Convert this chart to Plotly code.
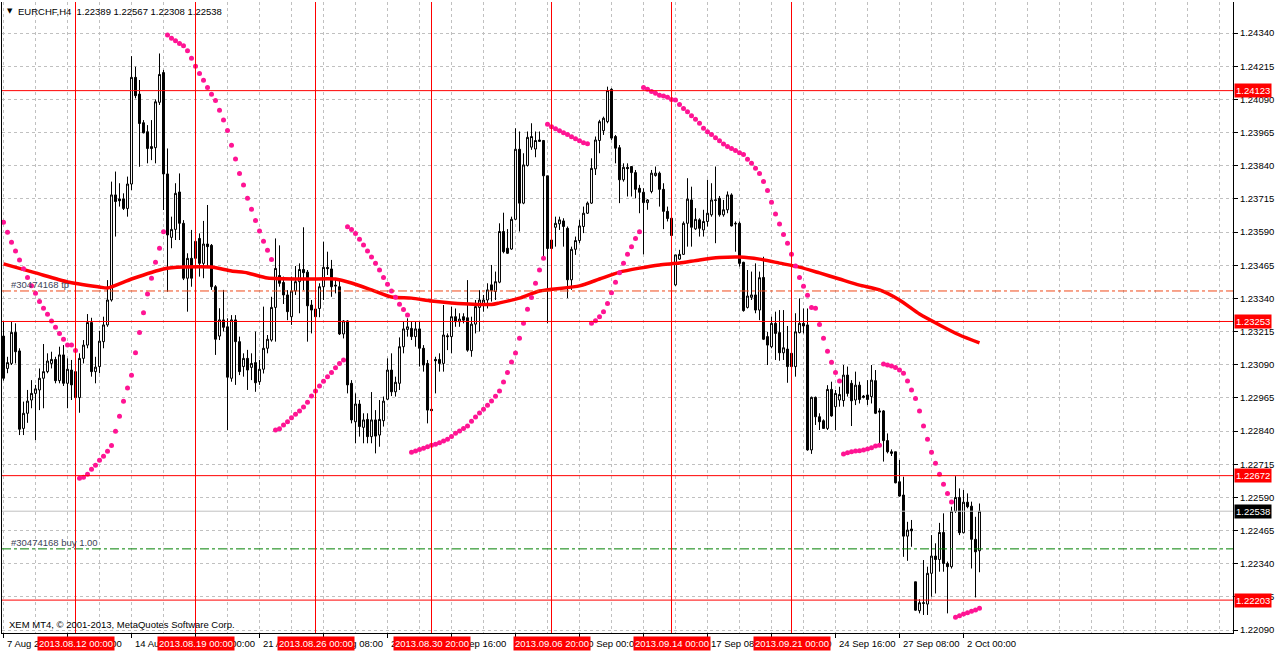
import plotly.graph_objects as go

# EURCHF H4, bar 0 = 7 Aug 2013 00:00 ... bar 244 = 2 Oct 2013 16:00
opens = [
    1.23198, 1.23076, 1.23095, 1.23212, 1.23142, 1.22850, 1.22907, 1.22957, 1.22982, 1.22995,
    1.23039, 1.23064, 1.23095, 1.23110, 1.23030, 1.23127, 1.23020, 1.23070, 1.23064, 1.22966,
    1.23114, 1.23164, 1.23249, 1.23064, 1.23083, 1.23177, 1.23240, 1.23334, 1.23730, 1.23715,
    1.23715, 1.23679, 1.23771, 1.24173, 1.24110, 1.24002, 1.23968, 1.23912, 1.23908, 1.24079,
    1.24191, 1.23809, 1.23570, 1.23600, 1.23741, 1.23623, 1.23416, 1.23491, 1.23491, 1.23566,
    1.23472, 1.23545, 1.23540, 1.23384, 1.23198, 1.23259, 1.23233, 1.23039, 1.23259, 1.23177,
    1.23083, 1.23114, 1.23080, 1.23098, 1.23026, 1.23073, 1.23152, 1.23183, 1.23306, 1.23426,
    1.23400, 1.23353, 1.23271, 1.23368, 1.23403, 1.23449, 1.23439, 1.23315, 1.23300, 1.23302,
    1.23384, 1.23457, 1.23451, 1.23390, 1.23384, 1.23206, 1.23255, 1.23020, 1.22875, 1.22942,
    1.22854, 1.22884, 1.22819, 1.22882, 1.22825, 1.22879, 1.22960, 1.23070, 1.22988, 1.23020,
    1.23158, 1.23223, 1.23227, 1.23196, 1.23225, 1.23152, 1.23095, 1.22922, 1.23110, 1.23110,
    1.23095, 1.23199, 1.23196, 1.23271, 1.23252, 1.23271, 1.23267, 1.23143, 1.23243, 1.23306,
    1.23319, 1.23334, 1.23391, 1.23366, 1.23401, 1.23592, 1.23529, 1.23526, 1.23638, 1.23902,
    1.23699, 1.23841, 1.23910, 1.23903, 1.23937, 1.23935, 1.23802, 1.23560, 1.23608, 1.23621,
    1.23632, 1.23604, 1.23410, 1.23525, 1.23558, 1.23611, 1.23661, 1.23699, 1.23828, 1.23935,
    1.23972, 1.24006, 1.24128, 1.23950, 1.23908, 1.23787, 1.23834, 1.23837, 1.23814, 1.23755,
    1.23740, 1.23701, 1.23743, 1.23803, 1.23812, 1.23751, 1.23668, 1.23642, 1.23391, 1.23488,
    1.23506, 1.23623, 1.23711, 1.23602, 1.23636, 1.23598, 1.23630, 1.23655, 1.23709, 1.23717,
    1.23655, 1.23674, 1.23730, 1.23623, 1.23623, 1.23476, 1.23306, 1.23344, 1.23353, 1.23296,
    1.23419, 1.23196, 1.23158, 1.23246, 1.23211, 1.23135, 1.23149, 1.23133, 1.23083, 1.23211,
    1.23246, 1.23240, 1.22769, 1.22967, 1.22894, 1.22879, 1.22850, 1.22997, 1.22932, 1.22957,
    1.22955, 1.23051, 1.23020, 1.22957, 1.23013, 1.22972, 1.22976, 1.22970, 1.23030, 1.22916,
    1.22916, 1.22804, 1.22762, 1.22762, 1.22649, 1.22599, 1.22444, 1.22471, 1.22272, 1.22163,
    1.22193, 1.22188, 1.22304, 1.22369, 1.22356, 1.22458, 1.22341, 1.22329, 1.22538, 1.22590,
    1.22457, 1.22572, 1.22557, 1.22432, 1.22389,
]
highs = [
    1.23252, 1.23120, 1.23252, 1.23246, 1.23152, 1.22951, 1.22995, 1.23032, 1.23014, 1.23076,
    1.23168, 1.23133, 1.23139, 1.23120, 1.23158, 1.23164, 1.23114, 1.23108, 1.23076, 1.23133,
    1.23183, 1.23281, 1.23267, 1.23120, 1.23218, 1.23271, 1.23409, 1.23780, 1.23818, 1.23774,
    1.23736, 1.23799, 1.24253, 1.24213, 1.24163, 1.24012, 1.23993, 1.24012, 1.24090, 1.24263,
    1.24201, 1.23905, 1.23648, 1.23774, 1.23811, 1.23635, 1.23510, 1.23598, 1.23585, 1.23585,
    1.23632, 1.23692, 1.23545, 1.23390, 1.23303, 1.23372, 1.23265, 1.23277, 1.23277, 1.23196,
    1.23133, 1.23146, 1.23133, 1.23215, 1.23108, 1.23309, 1.23202, 1.23346, 1.23566, 1.23540,
    1.23422, 1.23371, 1.23422, 1.23462, 1.23472, 1.23608, 1.23447, 1.23334, 1.23334, 1.23397,
    1.23554, 1.23516, 1.23485, 1.23409, 1.23409, 1.23258, 1.23258, 1.23032, 1.22982, 1.22957,
    1.22907, 1.22907, 1.22987, 1.22919, 1.22957, 1.22970, 1.23114, 1.23133, 1.23045, 1.23193,
    1.23252, 1.23265, 1.23252, 1.23252, 1.23252, 1.23164, 1.23108, 1.22925, 1.23120, 1.23133,
    1.23315, 1.23208, 1.23309, 1.23302, 1.23284, 1.23284, 1.23409, 1.23271, 1.23334, 1.23371,
    1.23353, 1.23397, 1.23466, 1.23441, 1.23623, 1.23663, 1.23601, 1.23648, 1.23981, 1.23969,
    1.23887, 1.23969, 1.24000, 1.23969, 1.23969, 1.23937, 1.23802, 1.23567, 1.23648, 1.23648,
    1.23642, 1.23611, 1.23535, 1.23573, 1.23636, 1.23686, 1.23705, 1.23868, 1.23950, 1.24013,
    1.24025, 1.24138, 1.24132, 1.23956, 1.23918, 1.23849, 1.23849, 1.23837, 1.23824, 1.23768,
    1.23755, 1.23714, 1.23824, 1.23837, 1.23818, 1.23774, 1.23686, 1.23648, 1.23504, 1.23523,
    1.23630, 1.23793, 1.23761, 1.23680, 1.23642, 1.23674, 1.23787, 1.23774, 1.23837, 1.23726,
    1.23711, 1.23743, 1.23736, 1.23630, 1.23630, 1.23478, 1.23447, 1.23441, 1.23472, 1.23441,
    1.23497, 1.23214, 1.23271, 1.23290, 1.23296, 1.23296, 1.23236, 1.23145, 1.23284, 1.23340,
    1.23302, 1.23302, 1.22970, 1.22970, 1.22907, 1.22884, 1.23013, 1.23026, 1.22995, 1.23007,
    1.23089, 1.23083, 1.23032, 1.23064, 1.23026, 1.22976, 1.23032, 1.23089, 1.23070, 1.22926,
    1.22919, 1.22831, 1.22771, 1.22762, 1.22731, 1.22668, 1.22498, 1.22505, 1.22272, 1.22206,
    1.22354, 1.22329, 1.22448, 1.22417, 1.22494, 1.22530, 1.22348, 1.22555, 1.22670, 1.22624,
    1.22618, 1.22605, 1.22574, 1.22517, 1.22567,
]
lows = [
    1.23030, 1.23058, 1.23089, 1.23095, 1.22825, 1.22825, 1.22871, 1.22926, 1.22806, 1.22919,
    1.22926, 1.23058, 1.23076, 1.23020, 1.23020, 1.23010, 1.22926, 1.22957, 1.22957, 1.22909,
    1.23095, 1.23152, 1.23045, 1.23020, 1.23058, 1.23152, 1.23233, 1.23328, 1.23573, 1.23686,
    1.23673, 1.23648, 1.23748, 1.24094, 1.23836, 1.23962, 1.23849, 1.23861, 1.23849, 1.24069,
    1.23673, 1.23365, 1.23529, 1.23560, 1.23560, 1.23409, 1.23290, 1.23384, 1.23460, 1.23422,
    1.23416, 1.23460, 1.23372, 1.23127, 1.23183, 1.23215, 1.22844, 1.23026, 1.23014, 1.23051,
    1.23045, 1.22995, 1.23032, 1.22988, 1.23014, 1.23057, 1.23133, 1.23177, 1.23177, 1.23384,
    1.23319, 1.23258, 1.23240, 1.23353, 1.23284, 1.23371, 1.23177, 1.23208, 1.23252, 1.23269,
    1.23334, 1.23428, 1.23346, 1.23359, 1.23202, 1.23189, 1.22982, 1.22869, 1.22794, 1.22819,
    1.22794, 1.22794, 1.22794, 1.22756, 1.22781, 1.22857, 1.22957, 1.22972, 1.22970, 1.22995,
    1.23133, 1.23196, 1.23183, 1.23158, 1.23083, 1.23064, 1.22869, 1.22912, 1.22982, 1.23064,
    1.23064, 1.23145, 1.23133, 1.23233, 1.23233, 1.23246, 1.23139, 1.23120, 1.23208, 1.23215,
    1.23290, 1.23302, 1.23328, 1.23334, 1.23397, 1.23510, 1.23508, 1.23523, 1.23636, 1.23592,
    1.23695, 1.23837, 1.23900, 1.23872, 1.23930, 1.23498, 1.23246, 1.23523, 1.23535, 1.23598,
    1.23535, 1.23341, 1.23372, 1.23504, 1.23548, 1.23586, 1.23658, 1.23696, 1.23805, 1.23887,
    1.23956, 1.24000, 1.23937, 1.23849, 1.23699, 1.23780, 1.23724, 1.23724, 1.23717, 1.23661,
    1.23506, 1.23674, 1.23736, 1.23799, 1.23686, 1.23601, 1.23630, 1.23577, 1.23387, 1.23485,
    1.23504, 1.23535, 1.23535, 1.23598, 1.23573, 1.23573, 1.23611, 1.23648, 1.23548, 1.23648,
    1.23648, 1.23661, 1.23611, 1.23516, 1.23460, 1.23290, 1.23302, 1.23334, 1.23284, 1.23258,
    1.23183, 1.23089, 1.23152, 1.23108, 1.23105, 1.23108, 1.23022, 1.23070, 1.23045, 1.23208,
    1.23208, 1.22766, 1.22754, 1.22863, 1.22844, 1.22849, 1.22844, 1.22894, 1.22844, 1.22932,
    1.22932, 1.22970, 1.22859, 1.22938, 1.22944, 1.22963, 1.22938, 1.22944, 1.22904, 1.22794,
    1.22725, 1.22756, 1.22746, 1.22643, 1.22593, 1.22366, 1.22351, 1.22404, 1.22163, 1.22153,
    1.22147, 1.22147, 1.22216, 1.22228, 1.22310, 1.22310, 1.22153, 1.22322, 1.22532, 1.22448,
    1.22454, 1.22549, 1.22322, 1.22213, 1.22308,
]
closes = [
    1.23039, 1.23098, 1.23212, 1.23139, 1.22847, 1.22907, 1.22953, 1.22982, 1.22999, 1.23039,
    1.23064, 1.23104, 1.23110, 1.23030, 1.23127, 1.23020, 1.23073, 1.23014, 1.22966, 1.23114,
    1.23164, 1.23249, 1.23064, 1.23081, 1.23179, 1.23240, 1.23334, 1.23730, 1.23705, 1.23708,
    1.23679, 1.23771, 1.24173, 1.24104, 1.23999, 1.23964, 1.23905, 1.23905, 1.24081, 1.24184,
    1.23809, 1.23579, 1.23600, 1.23736, 1.23623, 1.23416, 1.23491, 1.23416, 1.23555, 1.23472,
    1.23545, 1.23535, 1.23384, 1.23186, 1.23259, 1.23231, 1.23043, 1.23259, 1.23177, 1.23064,
    1.23114, 1.23070, 1.23095, 1.23022, 1.23073, 1.23152, 1.23186, 1.23306, 1.23453, 1.23397,
    1.23353, 1.23290, 1.23368, 1.23403, 1.23449, 1.23437, 1.23312, 1.23296, 1.23271, 1.23384,
    1.23457, 1.23452, 1.23384, 1.23387, 1.23206, 1.23255, 1.23014, 1.22882, 1.22942, 1.22857,
    1.22882, 1.22819, 1.22882, 1.22821, 1.22884, 1.22953, 1.23070, 1.22988, 1.23024, 1.23158,
    1.23225, 1.23233, 1.23196, 1.23225, 1.23152, 1.23089, 1.22919, 1.22917, 1.23105, 1.23095,
    1.23202, 1.23196, 1.23271, 1.23252, 1.23262, 1.23258, 1.23145, 1.23243, 1.23309, 1.23334,
    1.23334, 1.23372, 1.23370, 1.23403, 1.23592, 1.23516, 1.23510, 1.23638, 1.23902, 1.23699,
    1.23843, 1.23947, 1.23950, 1.23935, 1.23932, 1.23802, 1.23528, 1.23528, 1.23623, 1.23636,
    1.23611, 1.23410, 1.23525, 1.23558, 1.23613, 1.23661, 1.23699, 1.23830, 1.23937, 1.24006,
    1.24019, 1.24123, 1.23944, 1.23906, 1.23787, 1.23834, 1.23829, 1.23814, 1.23751, 1.23740,
    1.23701, 1.23711, 1.23812, 1.23812, 1.23751, 1.23668, 1.23641, 1.23577, 1.23504, 1.23506,
    1.23623, 1.23714, 1.23608, 1.23638, 1.23604, 1.23630, 1.23661, 1.23711, 1.23711, 1.23655,
    1.23674, 1.23730, 1.23613, 1.23621, 1.23472, 1.23294, 1.23349, 1.23353, 1.23296, 1.23418,
    1.23186, 1.23164, 1.23246, 1.23208, 1.23135, 1.23154, 1.23083, 1.23083, 1.23214, 1.23246,
    1.23236, 1.22769, 1.22967, 1.22894, 1.22875, 1.22850, 1.22997, 1.22897, 1.22982, 1.22978,
    1.23051, 1.22982, 1.22954, 1.23013, 1.22959, 1.22967, 1.22959, 1.23032, 1.22907, 1.22912,
    1.22804, 1.22762, 1.22756, 1.22645, 1.22595, 1.22444, 1.22467, 1.22464, 1.22165, 1.22193,
    1.22191, 1.22304, 1.22369, 1.22356, 1.22458, 1.22341, 1.22329, 1.22538, 1.22590, 1.22457,
    1.22572, 1.22555, 1.22432, 1.22385, 1.22538,
]
# Parabolic SAR, one dot per bar
sar = [
    1.23627, 1.23589, 1.23552, 1.23519, 1.23485, 1.23452, 1.23419, 1.23388, 1.23359, 1.23328,
    1.23303, 1.23280, 1.23255, 1.23231, 1.23208, 1.23186, 1.23164, 1.23164, 1.23144,
    1.22662, 1.22666, 1.22677, 1.22696, 1.22711, 1.22730, 1.22745, 1.22764, 1.22786, 1.22839,
    1.22896, 1.22952, 1.23002, 1.23050, 1.23135, 1.23211, 1.23286, 1.23357, 1.23416, 1.23476,
    1.23529, 1.23591,
    1.24333, 1.24320, 1.24311, 1.24301, 1.24292, 1.24273, 1.24245, 1.24215, 1.24188, 1.24162,
    1.24135, 1.24109, 1.24086, 1.24049, 1.24012, 1.23973, 1.23917, 1.23865, 1.23811, 1.23767,
    1.23717, 1.23676, 1.23634, 1.23594, 1.23555, 1.23521, 1.23487,
    1.22844, 1.22849, 1.22863, 1.22875, 1.22890, 1.22903, 1.22916, 1.22931, 1.22949, 1.22972,
    1.22991, 1.23010, 1.23028, 1.23045, 1.23061, 1.23079, 1.23095, 1.23108,
    1.23610, 1.23600, 1.23585, 1.23563, 1.23541, 1.23519, 1.23496, 1.23472, 1.23447, 1.23419,
    1.23393, 1.23368, 1.23344, 1.23318, 1.23298, 1.23277,
    1.22760, 1.22765, 1.22771, 1.22775, 1.22781, 1.22787, 1.22790, 1.22796, 1.22803, 1.22809,
    1.22820, 1.22832, 1.22840, 1.22850, 1.22859, 1.22877, 1.22893, 1.22908, 1.22922, 1.22937,
    1.22953, 1.22971, 1.22991, 1.23025, 1.23061, 1.23100, 1.23134, 1.23190, 1.23246, 1.23299,
    1.23343, 1.23397, 1.23447, 1.23491,
    1.23996, 1.23987, 1.23979, 1.23972, 1.23964, 1.23958, 1.23949, 1.23942, 1.23934, 1.23927,
    1.23923,
    1.23246, 1.23256, 1.23271, 1.23290, 1.23321, 1.23361, 1.23401, 1.23437, 1.23472, 1.23506,
    1.23535, 1.23566, 1.23591,
    1.24135, 1.24128, 1.24120, 1.24113, 1.24106, 1.24103, 1.24098, 1.24090, 1.24088, 1.24071,
    1.24056, 1.24043, 1.24028, 1.24015, 1.24000, 1.23981, 1.23968, 1.23958, 1.23945, 1.23934,
    1.23922, 1.23912, 1.23905, 1.23897, 1.23889, 1.23882, 1.23864, 1.23849, 1.23830, 1.23811,
    1.23781, 1.23747, 1.23702, 1.23658, 1.23620, 1.23581, 1.23548, 1.23506, 1.23462, 1.23419,
    1.23386, 1.23352, 1.23306, 1.23303, 1.23242, 1.23190, 1.23141, 1.23099, 1.23061, 1.23029,
    1.22754, 1.22758, 1.22762, 1.22765, 1.22766, 1.22769, 1.22772, 1.22777, 1.22784, 1.22787,
    1.23093, 1.23089, 1.23085, 1.23080, 1.23070, 1.23058, 1.23029, 1.22995, 1.22963, 1.22916,
    1.22859, 1.22809, 1.22760, 1.22719, 1.22677, 1.22640, 1.22605, 1.22573,
    1.22138, 1.22144, 1.22151, 1.22155, 1.22161, 1.22166, 1.22172,
]
# moving average at these bars
ma_bar = [0, 8, 16, 24, 26, 32, 40, 45, 52, 57, 61, 66, 76, 83, 87, 92, 97, 102, 107, 112,
          122, 124, 129, 134, 144, 149, 154, 159, 164, 169, 174, 179, 184, 189, 194, 199,
          204, 209, 214, 219, 224, 229, 234, 239, 244]
ma_val = [1.23470, 1.23436, 1.23402, 1.23383, 1.23379, 1.23413, 1.23451, 1.23458, 1.23458, 1.23443,
          1.23436, 1.23417, 1.23413, 1.23413, 1.23398, 1.23372, 1.23345, 1.23341, 1.23330, 1.23323,
          1.23317, 1.23323, 1.23341, 1.23368, 1.23387, 1.23413, 1.23439, 1.23454, 1.23466, 1.23473,
          1.23485, 1.23494, 1.23496, 1.23488, 1.23473, 1.23458, 1.23436, 1.23413, 1.23390, 1.23372,
          1.23334, 1.23281, 1.23240, 1.23202, 1.23172]

level_prices = [1.24123, 1.23253, 1.22672, 1.22203]
tp_price = 1.23368
buy_price = 1.22396
bid_price = 1.22538

vline_bars = [18, 48, 78, 107, 137, 167, 197]
vline_labels = ["2013.08.12 00:00", "2013.08.19 00:00", "2013.08.26 00:00", "2013.08.30 20:00",
                "2013.09.06 20:00", "2013.09.14 00:00", "2013.09.21 00:00"]

time_bars = [0, 16, 32, 48, 64, 80, 96, 112, 128, 144, 160, 176, 192, 208, 224, 240]
time_labels = ["7 Aug 2013", "9 Aug 16:00", "14 Aug 08:00", "19 Aug 00:00", "21 Aug 16:00",
               "26 Aug 08:00", "29 Aug 00:00", "2 Sep 16:00", "5 Sep 08:00", "10 Sep 00:00",
               "12 Sep 16:00", "17 Sep 08:00", "20 Sep 00:00", "24 Sep 16:00", "27 Sep 08:00",
               "2 Oct 00:00"]

price_labels = ["1.24340", "1.24215", "1.24090", "1.23965", "1.23840", "1.23715", "1.23590",
                "1.23465", "1.23340", "1.23215", "1.23090", "1.22965", "1.22840", "1.22715",
                "1.22590", "1.22465", "1.22340", "1.22215", "1.22090"]

FONT = "Liberation Sans"
GRID = "#C0C0C0"
bars = list(range(len(opens)))

fig = go.Figure()

fig.add_trace(go.Scatter(x=ma_bar, y=ma_val, mode="lines",
                         line=dict(color="#FF0000", width=3.5, shape="spline", smoothing=0.6),
                         hoverinfo="skip"))

fig.add_trace(go.Candlestick(
    x=bars, open=opens, high=highs, low=lows, close=closes,
    increasing=dict(line=dict(color="#000000", width=1), fillcolor="#FFFFFF"),
    decreasing=dict(line=dict(color="#000000", width=1), fillcolor="#000000"),
    whiskerwidth=0, hoverinfo="skip"))

fig.add_trace(go.Scatter(x=bars, y=sar, mode="markers",
                         marker=dict(color="#FF1493", size=5, symbol="circle", line=dict(width=0)),
                         hoverinfo="skip"))

shapes = []
for p in level_prices:
    shapes.append(dict(type="line", xref="paper", x0=0, x1=1, yref="y", y0=p, y1=p,
                       line=dict(color="#FF0000", width=1)))
shapes.append(dict(type="line", xref="paper", x0=0, x1=1, yref="y", y0=tp_price, y1=tp_price,
                   line=dict(color="#F04A1A", width=1, dash="dashdot")))
shapes.append(dict(type="line", xref="paper", x0=0, x1=1, yref="y", y0=buy_price, y1=buy_price,
                   line=dict(color="#008000", width=1, dash="dashdot")))
shapes.append(dict(type="line", xref="paper", x0=0, x1=1, yref="y", y0=bid_price, y1=bid_price,
                   line=dict(color="#C0C0C0", width=1)))
for b in vline_bars:
    shapes.append(dict(type="line", xref="x", x0=b, x1=b, yref="paper", y0=0, y1=1,
                       line=dict(color="#FF0000", width=1)))

ann = []
# time axis labels, left aligned at their tick
for b, t in zip(time_bars, time_labels):
    ann.append(dict(x=b, xref="x", y=0, yref="paper", text=t, showarrow=False,
                    xanchor="left", yanchor="top", xshift=1, yshift=-3,
                    font=dict(family=FONT, size=9.5, color="#000000")))
for b, t in zip(vline_bars, vline_labels):
    ann.append(dict(x=b, xref="x", y=0, yref="paper", text=t, showarrow=False,
                    xanchor="center", yanchor="top", yshift=-3, bgcolor="#FF0000", borderpad=1,
                    font=dict(family=FONT, size=9.5, color="#FFFFFF")))
for p in level_prices:
    ann.append(dict(x=1, xref="paper", y=p, yref="y", text=f"{p:.5f}", showarrow=False,
                    xanchor="left", yanchor="middle", xshift=1, bgcolor="#FF0000", borderpad=1,
                    font=dict(family=FONT, size=9.5, color="#FFFFFF")))
ann.append(dict(x=1, xref="paper", y=bid_price, yref="y", text=f"{bid_price:.5f}", showarrow=False,
                xanchor="left", yanchor="middle", xshift=1, bgcolor="#000000", borderpad=1,
                font=dict(family=FONT, size=9.5, color="#FFFFFF")))
ann.append(dict(x=0, xref="paper", y=tp_price, yref="y", text="#30474168 tp", showarrow=False,
                xanchor="left", yanchor="bottom", xshift=7, yshift=-1,
                font=dict(family=FONT, size=9.5, color="#3C4458")))
ann.append(dict(x=0, xref="paper", y=buy_price, yref="y", text="#30474168 buy 1.00", showarrow=False,
                xanchor="left", yanchor="bottom", xshift=7, yshift=-1,
                font=dict(family=FONT, size=9.5, color="#3C4458")))
ann.append(dict(x=0, xref="paper", y=1, yref="paper", text="▼", showarrow=False,
                xanchor="left", yanchor="top", xshift=3, yshift=-3,
                font=dict(family="DejaVu Sans", size=7, color="#000000")))
ann.append(dict(x=0, xref="paper", y=1, yref="paper",
                text="EURCHF,H4  1.22389 1.22567 1.22308 1.22538", showarrow=False,
                xanchor="left", yanchor="top", xshift=14, yshift=-2,
                font=dict(family=FONT, size=9.5, color="#000000")))
ann.append(dict(x=0, xref="paper", y=0, yref="paper",
                text="XEM MT4, © 2001-2013, MetaQuotes Software Corp.", showarrow=False,
                xanchor="left", yanchor="bottom", xshift=5, yshift=1,
                font=dict(family=FONT, size=9.5, color="#000000")))

fig.update_layout(
    width=1276, height=652,
    margin=dict(l=2, r=43, t=2, b=19),
    paper_bgcolor="#FFFFFF", plot_bgcolor="#FFFFFF",
    showlegend=False, hovermode=False,
    font=dict(family=FONT, size=9.5, color="#000000"),
    shapes=shapes, annotations=ann,
    xaxis=dict(
        range=[-0.375, 307.375], rangeslider=dict(visible=False),
        tickmode="array", tickvals=time_bars, showticklabels=False,
        ticks="outside", ticklen=4, tickcolor="#000000",
        showgrid=True, gridcolor=GRID, griddash="3px,3px", gridwidth=1,
        minor=dict(tickmode="linear", tick0=0, dtick=8, showgrid=True,
                   gridcolor=GRID, griddash="3px,3px", gridwidth=1, ticks=""),
        showline=True, linecolor="#000000", linewidth=1,
        zeroline=False, fixedrange=True,
    ),
    yaxis=dict(
        side="right", range=[1.22079, 1.24457],
        tickmode="array", tickvals=[float(s) for s in price_labels], ticktext=price_labels,
        ticks="outside", ticklen=4, tickcolor="#000000",
        tickfont=dict(family=FONT, size=9.5, color="#000000"),
        showgrid=True, gridcolor=GRID, griddash="3px,3px", gridwidth=1,
        showline=True, mirror=True, linecolor="#000000", linewidth=1,
        zeroline=False, fixedrange=True,
    ),
)

# the page body has an 8px default margin; drop it so the chart fills the window
fig.write_html("out.html", config={"displayModeBar": False},
               post_script="document.body.style.margin='0px';")
